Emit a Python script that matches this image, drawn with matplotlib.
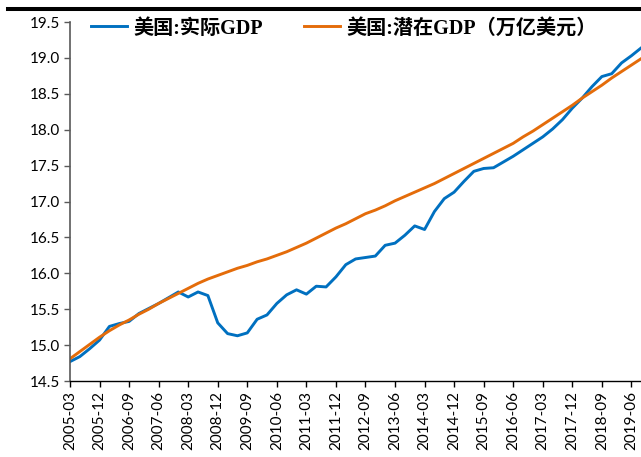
import matplotlib
matplotlib.use("Agg")
import matplotlib.pyplot as plt
import pandas as pd

# quarterly labels, 2005-03 .. 2019-09
quarters = [p.strftime("%Y-%m") for p in pd.period_range("2005Q1", "2019Q3", freq="Q").asfreq("M", how="end")]

# 美国:实际GDP (万亿美元)
real_gdp = [
    14.77, 14.84, 14.95, 15.07, 15.26, 15.30, 15.33, 15.44, 15.51, 15.58,
    15.66, 15.74, 15.67, 15.74, 15.69, 15.31, 15.16, 15.13, 15.17, 15.36,
    15.42, 15.58, 15.70, 15.77, 15.71, 15.82, 15.81, 15.95, 16.12, 16.20,
    16.22, 16.24, 16.39, 16.42, 16.53, 16.66, 16.61, 16.86, 17.04, 17.13,
    17.28, 17.42, 17.46, 17.47, 17.55, 17.63, 17.72, 17.81, 17.90, 18.01,
    18.14, 18.30, 18.44, 18.60, 18.74, 18.78, 18.93, 19.03, 19.14,
]

# 美国:潜在GDP (万亿美元)
potential_gdp = [
    14.81, 14.91, 15.01, 15.11, 15.20, 15.28, 15.35, 15.43, 15.50, 15.58,
    15.65, 15.72, 15.79, 15.86, 15.92, 15.97, 16.02, 16.07, 16.11, 16.16,
    16.20, 16.25, 16.30, 16.36, 16.42, 16.49, 16.56, 16.63, 16.69, 16.76,
    16.83, 16.88, 16.94, 17.01, 17.07, 17.13, 17.19, 17.25, 17.32, 17.39,
    17.46, 17.53, 17.60, 17.67, 17.74, 17.81, 17.90, 17.98, 18.07, 18.16,
    18.25, 18.34, 18.44, 18.53, 18.62, 18.72, 18.81, 18.90, 18.99,
]

labels = ["美国:实际GDP", "美国:潜在GDP（万亿美元）"]
colors = ["#0070C0", "#E46C0A"]

plt.rcParams["font.family"] = ["Lato", "DejaVu Sans"]

fig = plt.figure(figsize=(6.41, 4.57), dpi=100)
ax = fig.add_axes([70 / 641, 1 - 381 / 457, 1 - 70 / 641 + 0.005, 359 / 457])

x = list(range(len(quarters)))
l1, = ax.plot(x, real_gdp, color=colors[0], lw=2.1, solid_joinstyle="round", label=labels[0])
l2, = ax.plot(x, potential_gdp, color=colors[1], lw=2.1, solid_joinstyle="round", label=labels[1])

ax.set_xlim(0, 58.3)
ax.set_ylim(14.5, 19.5)
ax.set_yticks([14.5 + 0.5 * i for i in range(11)])
ax.yaxis.set_major_formatter(matplotlib.ticker.FormatStrFormatter("%.1f"))
ax.set_xticks(x[::3])
ax.set_xticklabels(quarters[::3], rotation=90)
ax.tick_params(axis="both", labelsize=11, colors="#000000", length=4, width=1)
ax.tick_params(axis="y", color="#595959")

for s in ["top", "right"]:
    ax.spines[s].set_visible(False)
ax.spines["left"].set_color("#595959")
ax.spines["left"].set_linewidth(1.2)
ax.spines["bottom"].set_color("#000000")
ax.spines["bottom"].set_linewidth(1.0)

# legend entries placed one by one along the top
leg_font = {"family": ["Liberation Serif", "Noto Sans CJK SC"], "weight": "bold", "size": 14.5}
for handle, x0 in [(l1, 91), (l2, 304)]:
    fig.legend(
        [handle], [handle.get_label()],
        loc="center left", bbox_to_anchor=(x0 / 641, 1 - 28.5 / 457),
        frameon=False, borderpad=0, borderaxespad=0, handlelength=1.8,
        handletextpad=0.3, prop=leg_font,
    )

# black rule across the top
fig.add_artist(plt.Line2D([8 / 641, 1], [1 - 9 / 457, 1 - 9 / 457], color="black", lw=2.9, transform=fig.transFigure))

fig.savefig("out.png", dpi=100)
